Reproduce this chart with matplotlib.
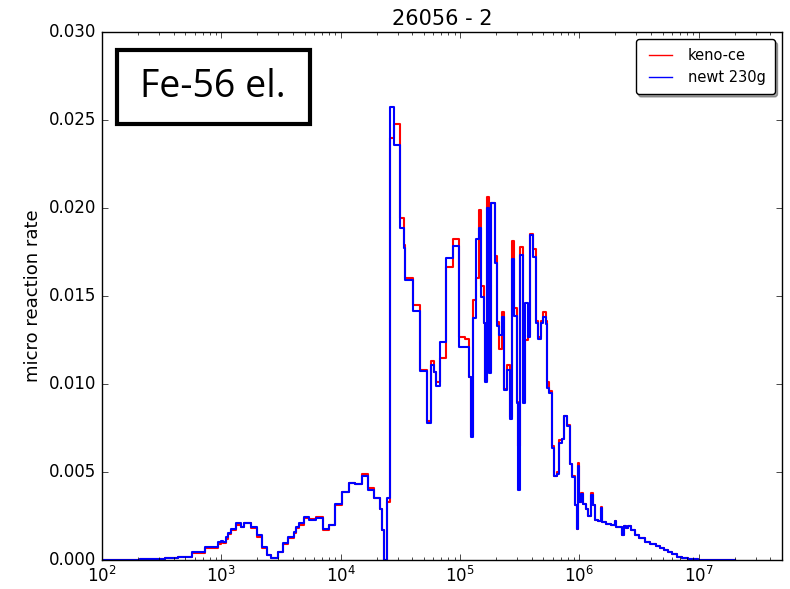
import matplotlib
matplotlib.use("Agg")
import matplotlib.pyplot as plt
import numpy as np
from matplotlib.patches import Rectangle

# group boundaries, log10(energy / eV)
log_edges = [2.000, 2.319, 2.529, 2.639, 2.756, 2.866, 2.975, 3.000, 3.017, 3.042,
             3.059, 3.084, 3.126, 3.168, 3.193, 3.252, 3.303, 3.345, 3.387, 3.420,
             3.471, 3.521, 3.563, 3.605, 3.630, 3.655, 3.689, 3.731, 3.790, 3.849,
             3.899, 3.950, 4.008, 4.067, 4.118, 4.176, 4.227, 4.277, 4.328, 4.345,
             4.366, 4.391, 4.414, 4.443, 4.498, 4.532, 4.540, 4.608, 4.666, 4.720,
             4.756, 4.779, 4.798, 4.832, 4.882, 4.939, 4.989, 5.045, 5.073, 5.090,
             5.112, 5.134, 5.157, 5.176, 5.199, 5.210, 5.224, 5.246, 5.263, 5.292,
             5.308, 5.330, 5.353, 5.367, 5.395, 5.420, 5.437, 5.456, 5.476, 5.485,
             5.502, 5.527, 5.549, 5.574, 5.591, 5.616, 5.639, 5.658, 5.681, 5.697,
             5.717, 5.729, 5.750, 5.771, 5.787, 5.815, 5.829, 5.855, 5.876, 5.899,
             5.918, 5.941, 5.961, 5.981, 5.989, 6.000, 6.011, 6.031, 6.053, 6.076,
             6.095, 6.115, 6.134, 6.157, 6.179, 6.193, 6.221, 6.269, 6.297, 6.311,
             6.361, 6.372, 6.389, 6.409, 6.431, 6.465, 6.498, 6.549, 6.591, 6.647,
             6.675, 6.712, 6.745, 6.779, 6.815, 6.857, 6.913, 6.998, 7.301]

newt = [0.00002, 0.00005, 0.0001, 0.0002, 0.00045, 0.00074, 0.0010, 0.0011, 0.00105, 0.0013,
        0.00155, 0.00175, 0.0021, 0.0019, 0.0021, 0.0019, 0.0014, 0.00074, 0.0003, 0.0001,
        0.00047, 0.00095, 0.0013, 0.0016, 0.0019, 0.0021, 0.00246, 0.0023, 0.0024, 0.00175,
        0.0020, 0.0032, 0.00385, 0.00435, 0.0043, 0.0048, 0.0040, 0.0035, 0.0029, 0.0017,
        0.0000, 0.0035, 0.02572, 0.0236, 0.01888, 0.01775, 0.0159, 0.01415, 0.01074, 0.0078,
        0.0111, 0.0107, 0.0099, 0.01237, 0.01718, 0.01784, 0.01212, 0.0121, 0.01038, 0.00697,
        0.01373, 0.01822, 0.01885, 0.01496, 0.01345, 0.01013, 0.01998, 0.0106, 0.0203, 0.0169,
        0.0133, 0.01278, 0.01383, 0.00966, 0.0108, 0.0080, 0.01708, 0.01386, 0.0089, 0.0040,
        0.01733, 0.0089, 0.01462, 0.01265, 0.01847, 0.01723, 0.01348, 0.01254, 0.01345, 0.01379,
        0.0134, 0.00976, 0.0095, 0.00635, 0.00477, 0.0049, 0.00667, 0.00686, 0.0082, 0.0076,
        0.00545, 0.0047, 0.0031, 0.00174, 0.00536, 0.0033, 0.00375, 0.0032, 0.0029, 0.0025,
        0.0037, 0.0031, 0.00227, 0.0022, 0.00294, 0.00218, 0.00205, 0.0020, 0.00223, 0.0019,
        0.0014, 0.00195, 0.0018, 0.00195, 0.0017, 0.0014, 0.00123, 0.0010, 0.0009, 0.0008,
        0.0007, 0.00057, 0.00044, 0.00032, 0.00019, 0.0001, 0.00005, 0.00001]

keno = [0.00002, 0.00005, 0.0001, 0.0002, 0.0004, 0.0007, 0.00092, 0.0010, 0.00095, 0.0012,
        0.0015, 0.0017, 0.0020, 0.0019, 0.00212, 0.0018, 0.0013, 0.0007, 0.0003, 0.0001,
        0.00045, 0.0009, 0.00125, 0.00155, 0.0018, 0.0020, 0.0024, 0.00232, 0.00242, 0.0017,
        0.0020, 0.0031, 0.00385, 0.00435, 0.0043, 0.0049, 0.0041, 0.0035, 0.0029, 0.0017,
        0.0000, 0.0033, 0.0240, 0.0248, 0.01945, 0.0179, 0.0160, 0.0145, 0.0108, 0.0079,
        0.0113, 0.0107, 0.0101, 0.0115, 0.01667, 0.01824, 0.0127, 0.01254, 0.0104, 0.0071,
        0.01477, 0.0160, 0.0199, 0.01557, 0.01345, 0.0102, 0.02061, 0.0108, 0.0203, 0.0173,
        0.0135, 0.01197, 0.0141, 0.0097, 0.0111, 0.0081, 0.01814, 0.0143, 0.0090, 0.0065,
        0.0178, 0.0091, 0.0125, 0.0128, 0.0185, 0.0177, 0.0136, 0.0127, 0.0136, 0.0141,
        0.0136, 0.0101, 0.0096, 0.0065, 0.0048, 0.0050, 0.0068, 0.0069, 0.0082, 0.0077,
        0.00545, 0.0048, 0.0031, 0.00174, 0.0055, 0.0033, 0.0038, 0.0032, 0.0029, 0.0025,
        0.0038, 0.0031, 0.00227, 0.0022, 0.0030, 0.00218, 0.00205, 0.0020, 0.00223, 0.0019,
        0.0014, 0.00195, 0.0018, 0.00195, 0.0017, 0.0014, 0.00123, 0.0010, 0.0009, 0.0008,
        0.0007, 0.00057, 0.00044, 0.00032, 0.00019, 0.0001, 0.00005, 0.00001]

edges = 10 ** np.array(log_edges)

plt.style.use('classic')
plt.rcParams['mathtext.fontset'] = 'dejavusans'

fig = plt.figure(figsize=(7.9, 5.89), dpi=100, facecolor='white')
ax = fig.add_axes([0.1291, 0.0492, 0.8608, 0.8964])

ax.step(edges, keno + [keno[-1]], where='post', color='r', lw=1.5, label='keno-ce')
ax.step(edges, newt + [newt[-1]], where='post', color='b', lw=1.5, label='newt 230g')

ax.set_xscale('log')
ax.set_xlim(1e2, 5e7)
ax.set_ylim(0, 0.030)
ax.set_yticks(np.arange(0, 0.0301, 0.005))
ax.yaxis.set_major_formatter(matplotlib.ticker.FormatStrFormatter('%.3f'))
ax.set_ylabel('micro reaction rate', fontsize=13)
ax.set_title('26056 - 2', fontsize=15)
ax.tick_params(labelsize=12)

leg = ax.legend(loc='upper right', fontsize=10.5, fancybox=True, shadow=True,
                handlelength=2.2, borderpad=0.6)
for line in leg.get_lines():
    line.set_linewidth(1.0)

# annotation box pasted on top of the plot
fig.patches.append(Rectangle((0.1481, 0.7895), 0.2443, 0.1256, transform=fig.transFigure,
                             fill=False, edgecolor='black', linewidth=3, zorder=10))
fig.text(0.2696, 0.852, 'Fe-56 el.', fontsize=27, family='Open Sans',
         ha='center', va='center', zorder=11)

fig.savefig('out.png', dpi=100, facecolor='white')
